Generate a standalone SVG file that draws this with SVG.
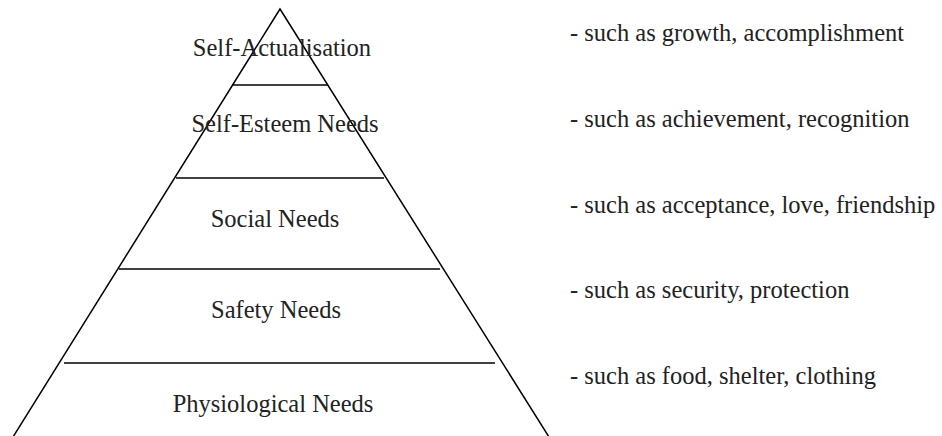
<svg xmlns="http://www.w3.org/2000/svg" width="942" height="436" viewBox="0 0 942 436">
<style>
.t{font-family:"Liberation Serif","Times New Roman",serif;font-size:24.5px;fill:#222}
.c{text-anchor:middle}
.l{stroke:#000;stroke-width:1.5;fill:none}
</style>
<rect width="942" height="436" fill="#fff"/>
<g id="connectors">
<path class="l" d="M13 437 L280 9 L549 437"/>
<line class="l" x1="232" y1="85" x2="328" y2="85"/>
<line class="l" x1="176" y1="178" x2="384" y2="178"/>
<line class="l" x1="119" y1="269" x2="440" y2="269"/>
<line class="l" x1="64" y1="363" x2="495" y2="363"/>
</g>
<g id="self-actualisation"><text class="t c" x="282" y="56">Self-Actualisation</text></g>
<g id="self-esteem"><text class="t c" x="285" y="132">Self-Esteem Needs</text></g>
<g id="social"><text class="t c" x="275" y="227">Social Needs</text></g>
<g id="safety"><text class="t c" x="276" y="318">Safety Needs</text></g>
<g id="physiological"><text class="t c" x="273" y="412">Physiological Needs</text></g>
<g id="notes">
<text class="t" x="570" y="41">- such as growth, accomplishment</text>
<text class="t" x="570" y="127">- such as achievement, recognition</text>
<text class="t" x="570" y="213">- such as acceptance, love, friendship</text>
<text class="t" x="570" y="298">- such as security, protection</text>
<text class="t" x="570" y="384">- such as food, shelter, clothing</text>
</g>
</svg>
